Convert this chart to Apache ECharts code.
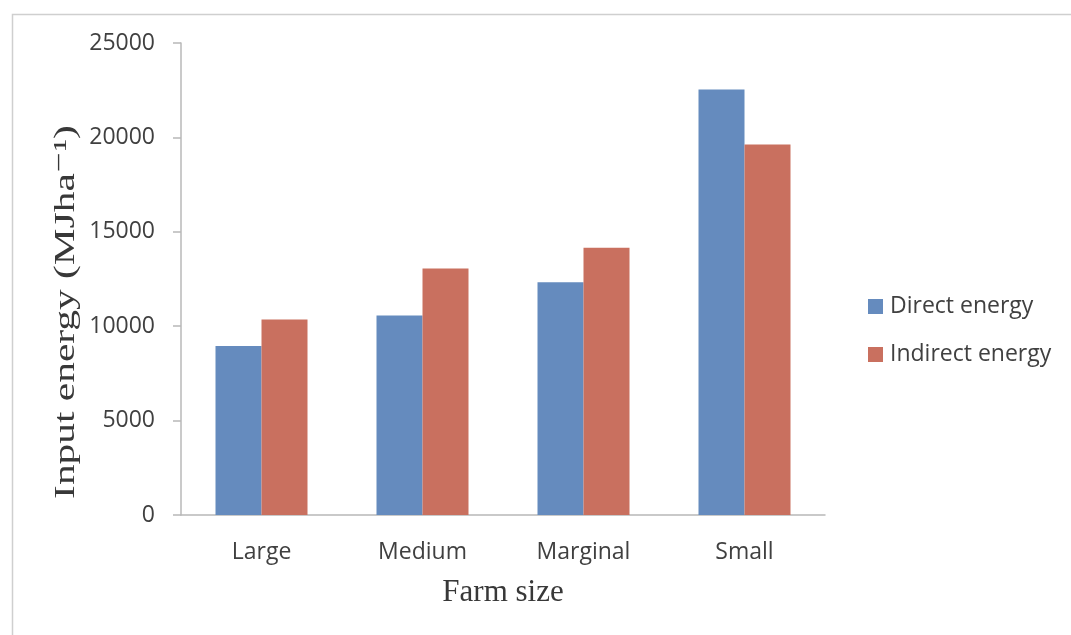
<!DOCTYPE html>
<html>
<head>
<meta charset="utf-8">
<script src="https://cdn.jsdelivr.net/npm/echarts@6/dist/echarts.min.js"></script>
<style>
  html, body { margin: 0; padding: 0; background: #ffffff; }
  #chart { width: 1071px; height: 635px; }
</style>
</head>
<body>
<div id="chart"></div>
<script>
// Farm size groups
const categories = ['Large', 'Medium', 'Marginal', 'Small'];
// Input energy per hectare (MJ/ha)
const directEnergy = [8950, 10570, 12330, 22540];
const indirectEnergy = [10360, 13060, 14150, 19620];
const seriesNames = ['Direct energy', 'Indirect energy'];
const yTicks = { min: 0, max: 25000, interval: 5000 };

const chart = echarts.init(document.getElementById('chart'));

const labelColor = '#404040';
const sansFont = '"Open Sans", "Noto Sans", sans-serif';
const serifFont = '"Liberation Serif", "DejaVu Serif", serif';

chart.setOption({
  animation: false,
  backgroundColor: '#ffffff',
  grid: { left: 181, right: 246, top: 43, bottom: 120, containLabel: false },
  legend: {
    orient: 'vertical',
    left: 868,
    top: 295,
    padding: 0,
    itemWidth: 15,
    itemHeight: 15,
    itemGap: 25,
    icon: 'rect',
    textStyle: { color: labelColor, fontFamily: sansFont, fontSize: 23, padding: [0, 0, 0, 2] },
    data: seriesNames
  },
  xAxis: {
    type: 'category',
    data: categories,
    name: 'Farm size',
    nameLocation: 'middle',
    nameGap: 62,
    nameTextStyle: { color: '#383838', fontFamily: serifFont, fontSize: 31 },
    axisLine: { lineStyle: { color: '#b8b8b8', width: 1.5 } },
    axisTick: { show: false },
    axisLabel: { color: labelColor, fontFamily: sansFont, fontSize: 23, margin: 26 }
  },
  yAxis: {
    type: 'value',
    min: yTicks.min,
    max: yTicks.max,
    interval: yTicks.interval,
    axisLine: { show: true, lineStyle: { color: '#b8b8b8', width: 1.5 } },
    axisTick: { show: true, length: 8, lineStyle: { color: '#b8b8b8', width: 1.5 } },
    splitLine: { show: false },
    axisLabel: {
      color: labelColor,
      fontFamily: sansFont,
      fontSize: 23,
      margin: 26,
      formatter: (v) => String(v)
    }
  },
  series: [
    {
      name: seriesNames[0],
      type: 'bar',
      data: directEnergy,
      barWidth: 46,
      barGap: '0%',
      itemStyle: { color: '#658BBE' }
    },
    {
      name: seriesNames[1],
      type: 'bar',
      data: indirectEnergy,
      barWidth: 46,
      barGap: '0%',
      itemStyle: { color: '#C9705F' }
    }
  ],
  graphic: [
    {
      type: 'rect',
      left: 10,
      top: 12,
      shape: { x: 0, y: 0, width: 1100, height: 700 },
      style: { fill: 'none', stroke: '#cfcfcf', lineWidth: 1.5 },
      silent: true
    },
    {
      type: 'text',
      x: 66,
      y: 312,
      rotation: Math.PI / 2,
      scaleX: 1.38,
      style: {
        text: 'Input energy (MJha\u207B\u00B9)',
        fill: '#383838',
        font: '30px ' + serifFont,
        align: 'center',
        verticalAlign: 'middle'
      },
      silent: true
    }
  ]
});
</script>
</body>
</html>
